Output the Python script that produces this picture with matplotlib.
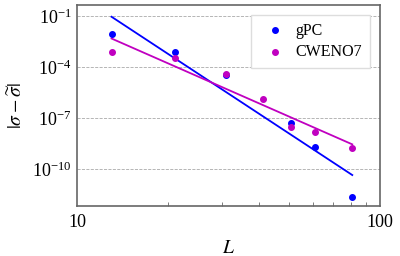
import matplotlib
matplotlib.use('Agg')
import matplotlib.pyplot as plt
import numpy as np

plt.rcParams['font.family'] = ['Liberation Serif', 'DejaVu Serif']
plt.rcParams['mathtext.fontset'] = 'stix'

# resolution L and error |sigma - sigma_tilde|
L_gpc = [13, 21, 31, 51, 61, 81]
err_gpc = [10**-2.08, 10**-3.12, 10**-4.45, 10**-7.27, 10**-8.72, 10**-11.65]
L_cweno = [13, 21, 31, 41, 51, 61, 81]
err_cweno = [10**-3.15, 10**-3.45, 10**-4.39, 10**-5.86, 10**-7.53, 10**-7.8, 10**-8.76]


def loglog_fit(x, y):
    '''least squares fit of log10(y) against log10(x)'''
    lx, ly = np.log10(x), np.log10(y)
    a, b = np.polyfit(lx, ly, 1)
    xs = np.array([x[0], x[-1]], dtype=float)
    return xs, 10**(a*np.log10(xs) + b)


fig = plt.figure(figsize=(4, 2.56), dpi=100)
ax = fig.add_axes([0.1925, 0.195, 0.7575, 0.785])

ax.scatter(L_gpc, err_gpc, s=16, color='#0000ff', label='gPC', zorder=3)
ax.scatter(L_cweno, err_cweno, s=16, color='#c000c0', label='CWENO7', zorder=3)

xs, ys = loglog_fit(L_gpc, err_gpc)
ax.plot(xs, ys, color='#0000ff', lw=1.3, zorder=2)
xs, ys = loglog_fit(L_cweno, err_cweno)
ax.plot(xs, ys, color='#c000c0', lw=1.3, zorder=2)

ax.set_xscale('log')
ax.set_yscale('log')
ax.set_xlim(10, 100)
ax.set_ylim(10**-12.18, 10**-0.37)
ax.set_yticks([1e-1, 1e-4, 1e-7, 1e-10])
ax.yaxis.set_minor_locator(matplotlib.ticker.NullLocator())
ax.grid(axis='y', which='major', ls='--', lw=0.6, color='#aaaaaa')
ax.tick_params(axis='y', which='both', length=0, labelsize=13, pad=4)
ax.tick_params(axis='x', which='both', direction='in', labelsize=13, color='#666666')
ax.tick_params(axis='x', which='major', length=0, pad=6)
ax.tick_params(axis='x', which='minor', length=3)
ax.xaxis.set_major_formatter(matplotlib.ticker.FuncFormatter(lambda v, p: f'{v:g}'))
ax.xaxis.set_minor_formatter(matplotlib.ticker.NullFormatter())
for sp in ax.spines.values():
    sp.set_color('#666666')
    sp.set_linewidth(1.2)

ax.set_xlabel(r'$L$', fontsize=14, labelpad=6)
ax.set_ylabel(r'$|\sigma - \widetilde{\sigma}|$', fontsize=14, labelpad=4)

ax.legend(loc='upper right', fontsize=11.5, handletextpad=0.3, borderpad=0.5,
          scatterpoints=1, framealpha=1, edgecolor='#dddddd',
          fancybox=False, labelspacing=0.35, borderaxespad=0.6)

fig.savefig('out.png', dpi=100)
